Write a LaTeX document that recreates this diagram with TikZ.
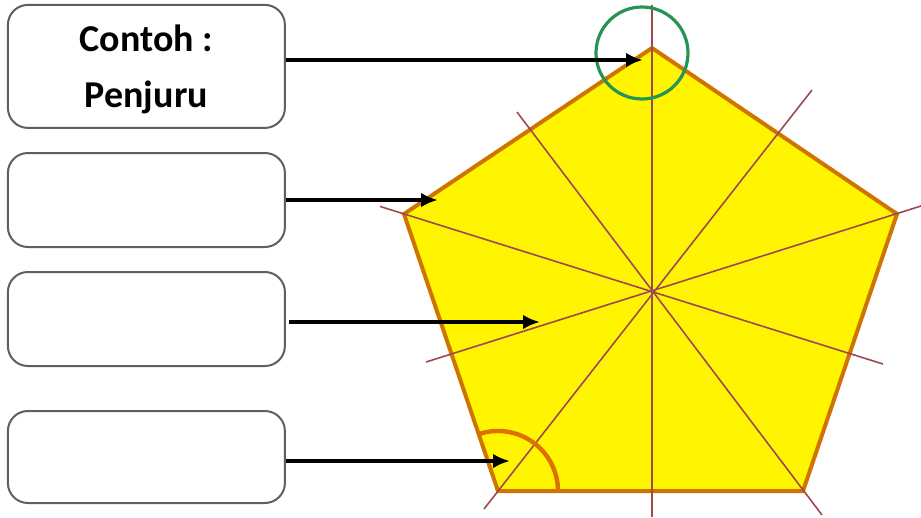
\documentclass[tikz,border=0pt]{standalone}
\usepackage{fontspec}
\setmainfont{Carlito}
\usepackage{xcolor}
\usepackage{tikz}
\usetikzlibrary{
    arrows.meta,
    positioning,
    calc
}
\definecolor{penfill}{RGB}{255,245,0}
\definecolor{penrim}{RGB}{208,116,0}
\definecolor{symred}{RGB}{160,72,80}
\definecolor{markgreen}{RGB}{38,148,82}
\definecolor{markorange}{RGB}{222,112,0}
\definecolor{boxgray}{RGB}{95,95,95}
\tikzset{
    labelbox/.style={
        draw=boxgray,
        line width=0.5mm,
        rounded corners=5mm,
        minimum width=69.25mm,
        minimum height=23.5mm,
        align=center,
        fill=white
    }
}
\tikzset{
    pointer/.style={
        draw=black,
        line width=0.85mm,
        -{Latex[length=4.2mm,width=3.6mm]}
    }
}
\tikzset{
    rim/.style={
        draw=penrim,
        fill=penfill,
        line width=1mm,
        line join=miter
    }
}
\tikzset{
    symline/.style={
        draw=symred,
        line width=0.4mm
    }
}
\tikzset{
    ringmark/.style={
        draw=markgreen,
        line width=0.8mm
    }
}
\tikzset{
    cornermark/.style={
        draw=markorange,
        line width=1.1mm
    }
}

\begin{document}
\begin{tikzpicture}[
    >=Latex,
    font=\bfseries\fontsize{27}{40}\selectfont
]

\useasboundingbox (0mm,0mm) rectangle (230.25mm,-129.25mm);

% ------------------------------------------------------------
% Pentagon with its lines of symmetry
% ------------------------------------------------------------

\coordinate (va) at (163mm,-12mm);
\coordinate (vb) at (224.25mm,-53.5mm);
\coordinate (vc) at (200.75mm,-122.75mm);
\coordinate (vd) at (124.5mm,-122.75mm);
\coordinate (ve) at (101mm,-53.5mm);

\filldraw[rim] (va) -- (vb) -- (vc) -- (vd) -- (ve) -- cycle;

\draw[symline] (163mm,-1.25mm) -- (163mm,-129.25mm);
\draw[symline] (230.25mm,-51.5mm) -- (106.5mm,-90.5mm);
\draw[symline] (95mm,-51.6mm) -- (220.75mm,-91mm);
\draw[symline] (121mm,-127.25mm) -- (203mm,-22.5mm);
\draw[symline] (205.5mm,-128.75mm) -- (129.25mm,-28mm);

% ------------------------------------------------------------
% Marks: vertex and angle
% ------------------------------------------------------------

\draw[ringmark] (160.5mm,-13.25mm) circle (11.5mm);
\draw[cornermark] ($(vd)+(15mm,0)$) arc[start angle=0, end angle=108, radius=15mm];

% ------------------------------------------------------------
% Label boxes and arrows
% ------------------------------------------------------------

\node[labelbox, minimum height=30.75mm, text depth=0pt] (b1) at (36.6mm,-16.6mm) {Contoh :\\Penjuru};
\node[labelbox] (b2) at (36.6mm,-50mm) {};
\node[labelbox] (b3) at (36.6mm,-79.75mm) {};
\node[labelbox, minimum height=23mm] (b4) at (36.6mm,-114.25mm) {};

\coordinate (t1) at (160.75mm,-15mm);
\coordinate (t2) at (109.5mm,-50mm);
\coordinate (t3) at (135mm,-80.5mm);
\coordinate (t4) at (127.5mm,-115.25mm);

\draw[pointer] (b1.east |- t1) -- (t1);
\draw[pointer] (b2.east |- t2) -- (t2);
\draw[pointer] ([xshift=0.75mm]b3.east |- t3) -- (t3);
\draw[pointer] (b4.east |- t4) -- (t4);

\end{tikzpicture}
\end{document}
